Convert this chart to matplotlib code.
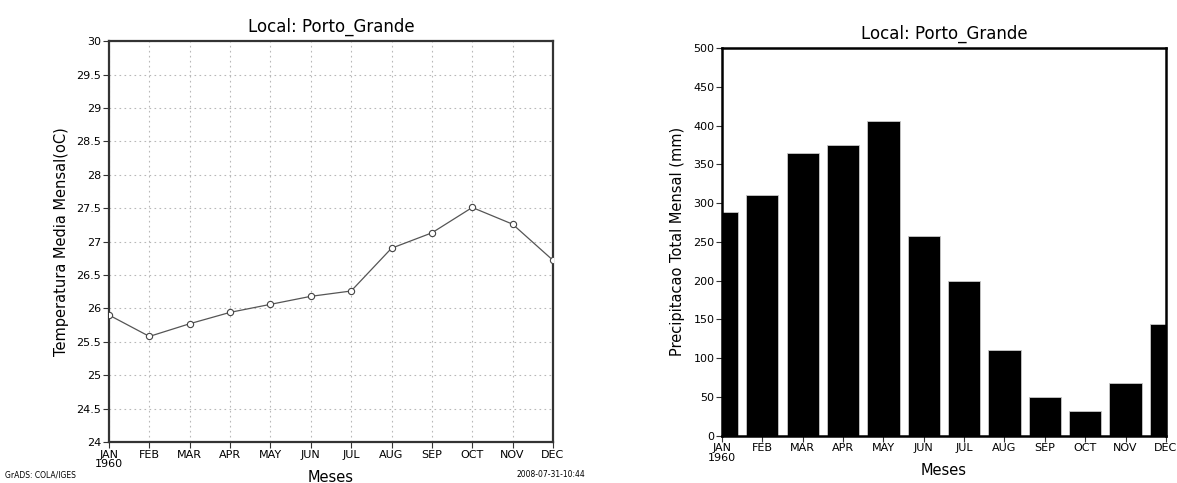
import numpy as np
import matplotlib.pyplot as plt

# ----------- DATA -----------------------------------------------------------
months          = ["JAN\n1960", "FEB", "MAR", "APR", "MAY", "JUN",
                   "JUL", "AUG", "SEP", "OCT", "NOV", "DEC"]
temperature     = [25.90, 25.58, 25.77, 25.94, 26.06, 26.18,
                   26.26, 26.90, 27.13, 27.51, 27.26, 26.72]   # oC
precipitation   = [289, 310, 364, 375, 406, 257,
                   199, 111, 50, 32, 68, 144]                   # mm
title           = "Local: Porto_Grande"
# ----------------------------------------------------------------------------

tick_font = ["Liberation Sans Narrow", "DejaVu Sans"]
x = np.arange(len(months))

fig = plt.figure(figsize=(11.77, 4.83), dpi=100)
ax_t = fig.add_axes([0.0926, 0.0849, 0.3772, 0.830])
ax_p = fig.add_axes([0.6134, 0.0979, 0.3772, 0.8027])

# Temperature line plot
ax_t.plot(x, temperature, color="#555555", lw=0.9, marker="o", ms=4.5,
          mfc="white", mec="#444444", mew=0.8, zorder=3)
ax_t.set_xlim(0, 11)
ax_t.set_ylim(24, 30)
ax_t.set_yticks(np.arange(24, 30.01, 0.5))
ax_t.yaxis.set_major_formatter(lambda v, pos: f"{v:g}")
ax_t.grid(True, color="#b8b8b8", ls=(0, (1.5, 3)), lw=0.8)
ax_t.set_ylabel("Temperatura Media Mensal(oC)", fontsize=10.5)
ax_t.yaxis.set_label_coords(-0.09, 0.5)
for s in ax_t.spines.values():
    s.set_linewidth(1.6)
    s.set_color("#333333")

# Precipitation bar plot
ax_p.bar(x, precipitation, width=0.8, color="black", edgecolor="#c8c8c8", lw=0.6)
ax_p.set_xlim(0, 11)
ax_p.set_ylim(0, 500)
ax_p.set_yticks(np.arange(0, 501, 50))
ax_p.set_ylabel("Precipitacao Total Mensal (mm)", fontsize=10.5)
ax_p.yaxis.set_label_coords(-0.083, 0.5)
for s in ax_p.spines.values():
    s.set_linewidth(1.8)
    s.set_color("black")

for ax in (ax_t, ax_p):
    ax.set_xticks(x)
    ax.set_xticklabels(months, linespacing=0.9)
    ax.tick_params(direction="out", length=4, width=0.8, pad=1.5,
                   top=False, right=False, color="#333333")
    for lab in ax.get_xticklabels() + ax.get_yticklabels():
        lab.set_family(tick_font)
        lab.set_fontsize(8)
    ax.set_title(title, fontsize=12, pad=7)
    ax.set_xlabel("Meses", fontsize=10.5)
    ax.xaxis.set_label_coords(0.5, -0.07)

fig.text(0.004, 0.008, "GrADS: COLA/IGES", fontsize=5.5, family=tick_font,
         ha="left", va="bottom")
fig.text(0.497, 0.008, "2008-07-31-10:44", fontsize=5.5, family=tick_font,
         ha="right", va="bottom")

fig.savefig("out.png", dpi=100)
